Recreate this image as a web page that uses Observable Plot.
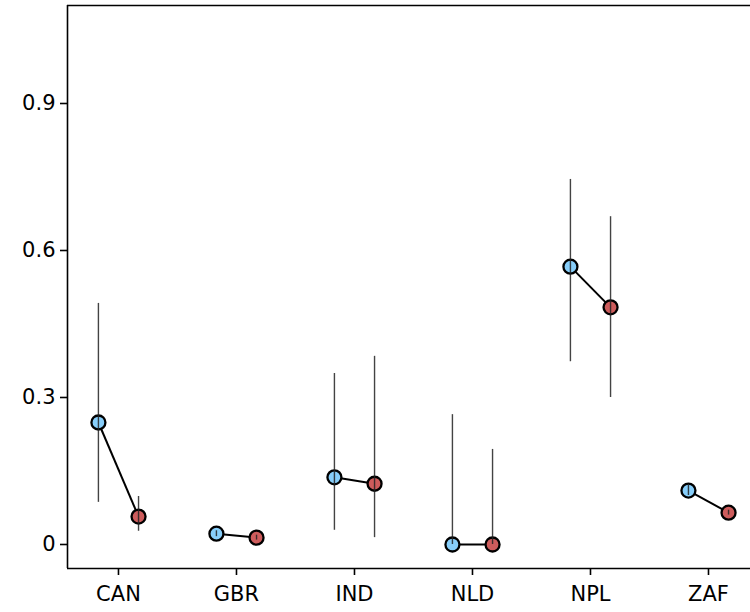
<!DOCTYPE html>
<html>
<head>
<meta charset="utf-8">
<script src="https://cdn.jsdelivr.net/npm/d3@7"></script>
<script src="https://cdn.jsdelivr.net/npm/@observablehq/plot@0.6"></script>
<style>
  html, body { margin: 0; padding: 0; background: #fff; }
  svg { display: block; }
</style>
</head>
<body>
<div id="chart"></div>
<script>
const countries = ["CAN", "GBR", "IND", "NLD", "NPL", "ZAF"];
const blueVal = [0.249, 0.022, 0.137, 0.000, 0.567, 0.110];
const blueLo  = [0.086, 0.016, 0.029, 0.000, 0.373, 0.100];
const blueHi  = [0.492, 0.028, 0.349, 0.265, 0.745, 0.121];
const redVal  = [0.057, 0.014, 0.124, 0.000, 0.484, 0.065];
const redLo   = [0.027, 0.009, 0.014, 0.000, 0.300, 0.060];
const redHi   = [0.098, 0.019, 0.384, 0.194, 0.669, 0.070];
const yTicks = [0, 0.3, 0.6, 0.9];
const yTickLabels = ["0", "0.3", "0.6", "0.9"];

const blueColor = "#87CEFA";
const redColor = "#CD5C5C";
const off = 0.17;
const xDomain = [-0.432, 5.356];
const yDomain = [-0.049, 1.1];

const blue = countries.map((c, i) => ({i, x: i - off, y: blueVal[i], lo: blueLo[i], hi: blueHi[i]}));
const red = countries.map((c, i) => ({i, x: i + off, y: redVal[i], lo: redLo[i], hi: redHi[i]}));
const pairs = countries.map((c, i) => ({x1: i - off, x2: i + off, y1: blueVal[i], y2: redVal[i]}));

const chart = Plot.plot({
  width: 750,
  height: 612,
  marginLeft: 67,
  marginRight: 0,
  marginTop: 5,
  marginBottom: 44,
  style: {fontFamily: "DejaVu Sans", fontSize: "21px", color: "#000", background: "#fff"},
  x: {domain: xDomain},
  y: {domain: yDomain},
  marks: [
    Plot.axisX({ticks: countries.map((c, i) => i), tickFormat: i => countries[i], tickSize: 7, tickPadding: 11, strokeWidth: 1.6, label: null, fontSize: 21}),
    Plot.axisY({ticks: yTicks, tickFormat: (d, k) => yTickLabels[k], tickSize: 7, tickPadding: 5, strokeWidth: 1.6, label: null, fontSize: 21}),
    Plot.ruleX([xDomain[0]], {stroke: "#000", strokeWidth: 1.6}),
    Plot.ruleY([yDomain[0]], {stroke: "#000", strokeWidth: 1.6}),
    Plot.ruleY([yDomain[1]], {stroke: "#000", strokeWidth: 1.6}),
    Plot.link(pairs, {x1: "x1", x2: "x2", y1: "y1", y2: "y2", stroke: "#000", strokeWidth: 2}),
    Plot.dot(blue, {x: "x", y: "y", r: 7, fill: blueColor, stroke: "#000", strokeWidth: 2.3}),
    Plot.dot(red, {x: "x", y: "y", r: 7, fill: redColor, stroke: "#000", strokeWidth: 2.3}),
    Plot.ruleX(blue, {x: "x", y1: "lo", y2: "hi", stroke: "#222", strokeWidth: 1.4, strokeOpacity: 0.85}),
    Plot.ruleX(red, {x: "x", y1: "lo", y2: "hi", stroke: "#222", strokeWidth: 1.4, strokeOpacity: 0.85})
  ]
});
document.getElementById("chart").appendChild(chart);
</script>
</body>
</html>
